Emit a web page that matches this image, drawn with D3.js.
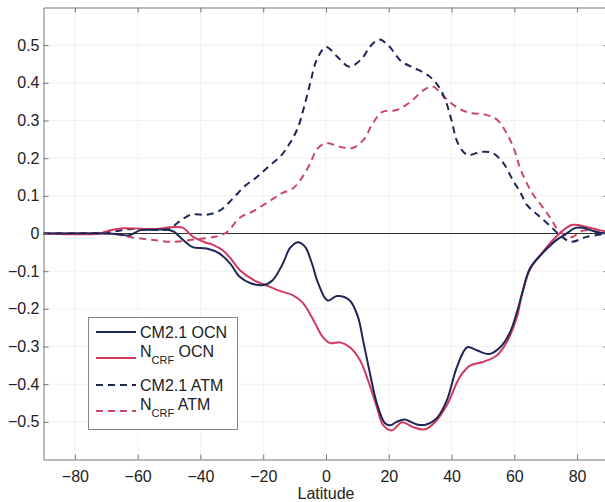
<!DOCTYPE html>
<html>
<head>
<meta charset="utf-8">
<script src="https://cdn.jsdelivr.net/npm/d3@7"></script>
<style>
    body { margin: 0; background: #fff; }
    svg { display: block; font-family: 'Liberation Sans', Arial, sans-serif; }
</style>
</head>
<body>
<div id="chart"></div>
<script>
const width = 605;
const height = 502;

// CM2.1 atmosphere (dashed navy)
const cmAtmLat = [-90, -75, -68, -62, -56, -50, -47, -43, -38, -34, -30, -26, -22, -18, -14.5, -11.5, -9, -7, -5, -3, 0, 3.5, 7.5, 11.5, 14, 17, 20, 24, 28, 32.5, 35.5, 38, 40, 42, 45, 49.5, 53, 56.5, 59.5, 62, 64, 67.5, 71, 74.5, 78, 83, 90];
const cmAtm = [0, 0, 0.005, 0.012, 0.01, 0.012, 0.03, 0.05, 0.05, 0.06, 0.09, 0.125, 0.15, 0.18, 0.205, 0.24, 0.28, 0.335, 0.4, 0.46, 0.495, 0.47, 0.443, 0.465, 0.496, 0.515, 0.498, 0.457, 0.44, 0.42, 0.395, 0.355, 0.3, 0.24, 0.209, 0.217, 0.214, 0.187, 0.142, 0.108, 0.076, 0.049, 0.023, -0.004, -0.022, -0.009, 0];

// N_CRF atmosphere (dashed pink)
const nAtmLat = [-90, -70, -65, -62, -55, -49, -41, -35, -31.5, -27.5, -23, -18, -14, -10.5, -7.5, -5, -3, 0, 4.5, 8.5, 12, 15, 18, 22.5, 27, 31, 34, 37.5, 42, 46, 51, 54.5, 57.5, 60, 62, 65.5, 69, 71.5, 74, 78, 82, 90];
const nAtm = [0, 0, -0.005, -0.01, -0.017, -0.022, -0.015, -0.008, 0.004, 0.042, 0.06, 0.086, 0.107, 0.12, 0.15, 0.187, 0.222, 0.24, 0.23, 0.227, 0.249, 0.294, 0.323, 0.328, 0.35, 0.38, 0.39, 0.364, 0.333, 0.32, 0.315, 0.302, 0.267, 0.222, 0.17, 0.11, 0.07, 0.041, 0.009, -0.01, 0.008, 0];

// CM2.1 ocean (solid navy)
const cmOcnLat = [-90, -70, -66, -63, -59, -55, -50.5, -48.5, -45.5, -42.5, -38, -34, -30.5, -27.5, -24, -20, -17, -13.7, -11.5, -9, -6.7, -4.5, -2.5, 0.5, 3.5, 7.5, 10.2, 11.8, 14, 16.2, 18.8, 20.5, 22.5, 25, 27, 29, 32, 35.5, 38.5, 41.7, 45, 48, 52, 55.5, 58.5, 61, 62.5, 65, 69, 73.5, 76, 79.5, 82, 86, 90];
const cmOcn = [0, 0, -0.002, -0.005, 0.009, 0.01, 0.01, 0.005, -0.017, -0.036, -0.04, -0.053, -0.08, -0.115, -0.132, -0.137, -0.124, -0.079, -0.039, -0.023, -0.035, -0.079, -0.132, -0.178, -0.166, -0.177, -0.222, -0.283, -0.371, -0.451, -0.504, -0.509, -0.5, -0.494, -0.5, -0.507, -0.507, -0.488, -0.443, -0.355, -0.302, -0.31, -0.32, -0.302, -0.265, -0.204, -0.158, -0.092, -0.052, -0.017, -0.004, 0.015, 0.015, 0.004, 0];

// N_CRF ocean (solid red)
const nOcnLat = [-90, -72, -69, -64.5, -58, -54, -48.5, -45.5, -42.5, -39, -36, -33, -30.5, -27.5, -23, -18, -14.5, -10.5, -7.3, -4, -1, 1.3, 4.5, 7.6, 10.8, 13.4, 16.2, 18.2, 21, 24.2, 27.7, 31.5, 34.7, 38.5, 42.7, 46, 50, 54.5, 57.6, 60.8, 62.5, 65, 69, 74.5, 78.5, 83, 87, 90];
const nOcn = [0, 0, 0.008, 0.014, 0.012, 0.012, 0.017, 0.015, -0.008, -0.022, -0.03, -0.044, -0.065, -0.097, -0.124, -0.141, -0.153, -0.164, -0.185, -0.23, -0.275, -0.291, -0.289, -0.302, -0.336, -0.39, -0.461, -0.509, -0.523, -0.501, -0.514, -0.52, -0.501, -0.456, -0.38, -0.35, -0.341, -0.323, -0.288, -0.222, -0.16, -0.095, -0.05, 0.001, 0.023, 0.017, 0.009, 0.004];

const xTicks = [-80, -60, -40, -20, 0, 20, 40, 60, 80];
const yTicks = [-0.5, -0.4, -0.3, -0.2, -0.1, 0, 0.1, 0.2, 0.3, 0.4, 0.5];

const navy = '#1e2656';
const red = '#d23a62';

const series = [
    { name: 'CM2.1 OCN', lat: cmOcnLat, val: cmOcn, color: navy, dash: null },
    { name: 'N_CRF OCN', lat: nOcnLat, val: nOcn, color: red, dash: null },
    { name: 'CM2.1 ATM', lat: cmAtmLat, val: cmAtm, color: navy, dash: '7,5' },
    { name: 'N_CRF ATM', lat: nAtmLat, val: nAtm, color: '#c9476a', dash: '7,5' }
];

const x = d3.scaleLinear().domain([-90, 90]).range([43.5, 608.5]);
const y = d3.scaleLinear().domain([-0.6, 0.6]).range([459.5, 7.5]);

const svg = d3.select('#chart').append('svg')
    .attr('width', width)
    .attr('height', height);

// faint grid
svg.append('g')
    .selectAll('line')
    .data(xTicks)
    .enter().append('line')
    .attr('x1', d => x(d)).attr('x2', d => x(d))
    .attr('y1', y(0.6)).attr('y2', y(-0.6))
    .attr('stroke', '#f1f1f1');
svg.append('g')
    .selectAll('line')
    .data(yTicks)
    .enter().append('line')
    .attr('x1', x(-90)).attr('x2', x(90))
    .attr('y1', d => y(d)).attr('y2', d => y(d))
    .attr('stroke', '#f1f1f1');

// zero line
svg.append('line')
    .attr('x1', x(-90)).attr('x2', x(90))
    .attr('y1', y(0)).attr('y2', y(0))
    .attr('stroke', '#333')
    .attr('stroke-width', 1.2);

const line = d3.line()
    .x(d => x(d[0]))
    .y(d => y(d[1]))
    .curve(d3.curveCatmullRom.alpha(0.5));

const lines = svg.append('g');
series.slice().reverse().forEach(s => {
    lines.append('path')
        .datum(s.lat.map((l, i) => [l, s.val[i]]))
        .attr('d', line)
        .attr('fill', 'none')
        .attr('stroke', s.color)
        .attr('stroke-width', 2)
        .attr('stroke-dasharray', s.dash);
});

// axes (ticks inside)
const axisColor = '#777';
const minus = s => s.replace('-', '\u2212');
const axBottom = svg.append('g')
    .attr('transform', `translate(0,${y(-0.6)})`)
    .call(d3.axisBottom(x).tickValues(xTicks).tickSizeInner(-5).tickSizeOuter(0).tickPadding(11)
        .tickFormat(d => minus(String(d))));
const axTop = svg.append('g')
    .attr('transform', `translate(0,${y(0.6)})`)
    .call(d3.axisTop(x).tickValues(xTicks).tickSizeInner(-5).tickSizeOuter(0).tickFormat(''));
const axLeft = svg.append('g')
    .attr('transform', `translate(${x(-90)},0)`)
    .call(d3.axisLeft(y).tickValues(yTicks).tickSizeInner(-5).tickSizeOuter(0).tickPadding(4)
        .tickFormat(d => minus(String(d))));
const axRight = svg.append('g')
    .attr('transform', `translate(${x(90)},0)`)
    .call(d3.axisRight(y).tickValues(yTicks).tickSizeInner(-5).tickSizeOuter(0).tickFormat(''));

[axBottom, axTop, axLeft, axRight].forEach(a => {
    a.select('.domain').attr('stroke', axisColor);
    a.selectAll('.tick line').attr('stroke', axisColor);
    a.selectAll('text').attr('fill', '#222').attr('font-size', '16px')
        .attr('font-family', "'Liberation Sans', Arial, sans-serif");
});

svg.append('text')
    .attr('x', x(0))
    .attr('y', 499)
    .attr('text-anchor', 'middle')
    .attr('font-size', '16px')
    .attr('fill', '#222')
    .text('Latitude');

// legend
const legend = svg.append('g');
legend.append('rect')
    .attr('x', 88.5).attr('y', 317.5)
    .attr('width', 149).attr('height', 112)
    .attr('fill', '#fff')
    .attr('stroke', '#888');

const rowY = [332, 358, 385, 411];
series.forEach((s, i) => {
    const ly = rowY[i];
    legend.append('line')
        .attr('x1', 96).attr('x2', 136)
        .attr('y1', ly).attr('y2', ly)
        .attr('stroke', s.color)
        .attr('stroke-width', 2)
        .attr('stroke-dasharray', s.dash);
    const parts = s.name.split(' ');
    const t = legend.append('text')
        .attr('x', 140)
        .attr('font-size', '16px')
        .attr('fill', '#222');
    if (parts[0] === 'N_CRF') {
        t.attr('y', ly - 1);
        t.append('tspan').text('N');
        t.append('tspan').attr('font-size', '11px').attr('dy', 7).text('CRF');
        t.append('tspan').attr('dy', -7).text(' ' + parts[1]);
    } else {
        t.attr('y', ly + 6).text(s.name);
    }
});
</script>
</body>
</html>
